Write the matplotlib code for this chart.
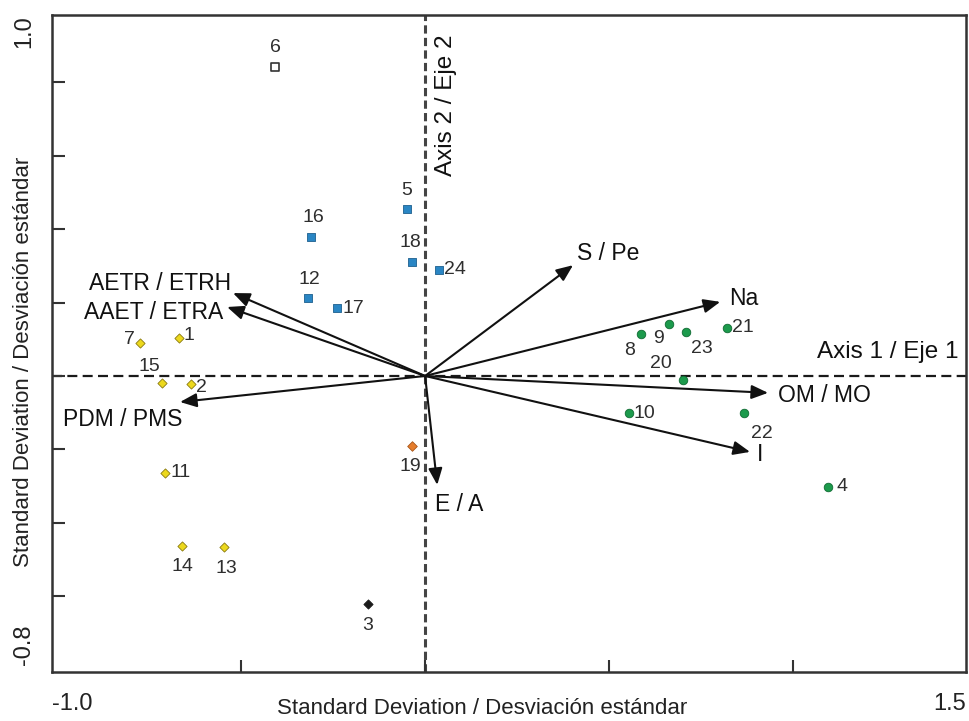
import matplotlib
matplotlib.use("Agg")
import matplotlib.pyplot as plt

plt.rcParams['font.family'] = ['Liberation Sans', 'DejaVu Sans']

# ---------------- data ----------------
sample_ids = ['6', '16', '12', '17', '5', '18', '24',
              '7', '1', '15', '2', '11', '14', '13',
              '19', '3',
              '8', '9', '23', '21', '20', '10', '22', '4']
sample_x = [-0.408, -0.310, -0.318, -0.239, -0.049, -0.035, 0.038,
            -0.774, -0.668, -0.715, -0.636, -0.707, -0.660, -0.546,
            -0.035, -0.155,
            0.587, 0.663, 0.709, 0.821, 0.701, 0.554, 0.867, 1.095]
sample_y = [0.842, 0.379, 0.213, 0.185, 0.455, 0.311, 0.289,
            0.090, 0.104, -0.019, -0.022, -0.264, -0.463, -0.466,
            -0.191, -0.621,
            0.114, 0.142, 0.120, 0.131, -0.011, -0.101, -0.101, -0.302]
sample_group = ['open', 'blue', 'blue', 'blue', 'blue', 'blue', 'blue',
                'yellow', 'yellow', 'yellow', 'yellow', 'yellow', 'yellow', 'yellow',
                'orange', 'black',
                'green', 'green', 'green', 'green', 'green', 'green', 'green', 'green']

vector_names = ['AETR / ETRH', 'AAET / ETRA', 'PDM / PMS', 'E / A',
                'S / Pe', 'Na', 'OM / MO', 'I']
vector_x = [-0.522, -0.538, -0.666, 0.033, 0.402, 0.802, 0.932, 0.883]
vector_y = [0.226, 0.188, -0.071, -0.297, 0.302, 0.202, -0.046, -0.207]

x_tick_labels = ['-1.0', '1.5']
y_tick_labels = ['1.0', '-0.8']

# ---------------- styles / layout ----------------
group_style = {
    'open':   dict(marker='s', s=30, facecolor='white', edgecolor='#333333', linewidths=1.2),
    'blue':   dict(marker='s', s=30, facecolor='#2a86c4', edgecolor='#1d5f8e', linewidths=0.6),
    'yellow': dict(marker='D', s=22, facecolor='#ecd81c', edgecolor='#8a7a10', linewidths=0.6),
    'orange': dict(marker='D', s=24, facecolor='#e57d2c', edgecolor='#a8561a', linewidths=0.6),
    'black':  dict(marker='D', s=22, facecolor='#1a1a1a', edgecolor='#1a1a1a', linewidths=0.6),
    'green':  dict(marker='o', s=38, facecolor='#1c9a4c', edgecolor='#0f6a32', linewidths=0.6),
}

# label offsets in pixels (dx, dy, ha)
label_offsets = {
    '6': (0, 20, 'center'), '16': (2, 19, 'center'), '12': (1, 18, 'center'),
    '17': (5, 0, 'left'), '5': (0, 19, 'center'), '18': (-2, 19, 'center'),
    '24': (5, 0, 'left'), '7': (-5, 3, 'right'), '1': (4, 2, 'left'),
    '15': (-13, 16, 'center'), '2': (5, -3, 'left'), '11': (6, 0, 'left'),
    '14': (0, -21, 'center'), '13': (2, -22, 'center'), '19': (-2, -20, 'center'),
    '3': (0, -22, 'center'), '8': (-12, -16, 'center'), '9': (-11, -15, 'center'),
    '23': (16, -17, 'center'), '21': (5, 0, 'left'), '20': (-22, 16, 'center'),
    '10': (5, 0, 'left'), '22': (18, -20, 'center'), '4': (8, 0, 'left'),
}

vector_label_pos = {
    'AETR / ETRH': (-0.527, 0.253, 'right'),
    'AAET / ETRA': (-0.549, 0.174, 'right'),
    'PDM / PMS': (-0.984, -0.120, 'left'),
    'E / A': (0.027, -0.351, 'left'),
    'S / Pe': (0.413, 0.335, 'left'),
    'Na': (0.826, 0.210, 'left'),
    'OM / MO': (0.959, -0.052, 'left'),
    'I': (0.902, -0.215, 'left'),
}

fig = plt.figure(figsize=(9.69, 7.21), dpi=100)
ax = fig.add_axes([52 / 969, 49 / 721, 914 / 969, 657 / 721])
ax.set_xlim(-1.014, 1.470)
ax.set_ylim(-0.807, 0.984)

# dashed axes through origin
ax.axhline(0, color='#1a1a1a', lw=1.6, ls=(0, (4.5, 2.4)), zorder=1)
ax.axvline(0, color='#444444', lw=2.2, ls=(0, (2.7, 1.4)), zorder=1)

# vectors
for name, vx, vy in zip(vector_names, vector_x, vector_y):
    ax.annotate('', xy=(vx, vy), xytext=(0, 0),
                arrowprops=dict(arrowstyle='-|>,head_length=1.0,head_width=0.42',
                                color='#111111', lw=1.5, shrinkA=0, shrinkB=0),
                zorder=3)
    tx, ty, ha = vector_label_pos[name]
    ax.text(tx, ty, name, ha=ha, va='center', fontsize=16.5, color='#111111', zorder=4)

# samples
for sid, sx, sy, g in zip(sample_ids, sample_x, sample_y, sample_group):
    ax.scatter([sx], [sy], zorder=5, **group_style[g])
    dx, dy, ha = label_offsets[sid]
    ax.annotate(sid, xy=(sx, sy), xytext=(dx, dy), textcoords='offset pixels',
                ha=ha, va='center', fontsize=14, color='#2e2e2e', zorder=6)

ax.text(1.450, 0.065, 'Axis 1 / Eje 1', ha='right', va='center', fontsize=17.5, color='#111111')
ax.text(0.058, 0.738, 'Axis 2 / Eje 2', ha='center', va='center', rotation=90,
        fontsize=17.5, color='#111111')

# ticks (inward, unlabeled)
ax.set_xticks([-0.5, 0, 0.5, 1.0])
ax.set_yticks([-0.6, -0.4, -0.2, 0, 0.2, 0.4, 0.6, 0.8])
ax.tick_params(direction='in', length=9, width=1.5, color='#333333',
               labelbottom=False, labelleft=False)
for sp in ax.spines.values():
    sp.set_color('#333333')
    sp.set_linewidth(1.8)

# corner tick labels
ax.text(0.0, -0.032, x_tick_labels[0], transform=ax.transAxes, ha='left', va='top', fontsize=17, color='#222222')
ax.text(1.0, -0.032, x_tick_labels[1], transform=ax.transAxes, ha='right', va='top', fontsize=17, color='#222222')
ax.text(-0.0186, 1.0, y_tick_labels[0], transform=ax.transAxes, ha='right', va='top', rotation=90, fontsize=17, color='#222222')
ax.text(-0.0186, 0.011, y_tick_labels[1], transform=ax.transAxes, ha='right', va='bottom', rotation=90, fontsize=17, color='#222222')

fig.text(482 / 969, 1 - 714 / 721, 'Standard Deviation / Desviación estándar', ha='center', va='baseline',
         fontsize=16, color='#222222')
fig.text(24 / 969, 1 - 362 / 721, 'Standard Deviation / Desviación estándar', ha='center', va='center',
         rotation=90, fontsize=16, color='#222222')

fig.savefig('out.png', dpi=100)
